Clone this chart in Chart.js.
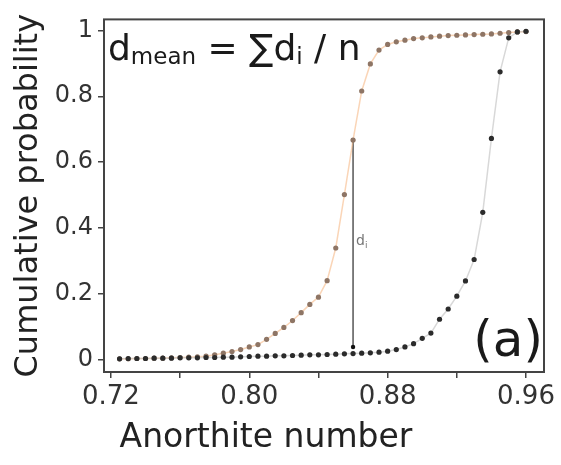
<!DOCTYPE html>
<html>
<head>
<meta charset="utf-8">
<script src="https://cdn.jsdelivr.net/npm/chart.js@4.4.0/dist/chart.umd.min.js"></script>
<style>
    html, body { margin: 0; padding: 0; background: #fff; }
    #wrap { width: 561px; height: 465px; position: relative; }
</style>
</head>
<body>
<div id="wrap"><canvas id="grafica"></canvas></div>
<script>
// --- DATOS ---
const anorthita = [0.725, 0.730, 0.735, 0.740, 0.745, 0.750, 0.755, 0.760, 0.765, 0.770,
    0.775, 0.780, 0.785, 0.790, 0.795, 0.800, 0.805, 0.810, 0.815, 0.820,
    0.825, 0.830, 0.835, 0.840, 0.845, 0.850, 0.855, 0.860, 0.865, 0.870,
    0.875, 0.880, 0.885, 0.890, 0.895, 0.900, 0.905, 0.910, 0.915, 0.920,
    0.925, 0.930, 0.935, 0.940, 0.945, 0.950, 0.955, 0.960];

const probNaranja = [0.004, 0.004, 0.005, 0.005, 0.006, 0.006, 0.007, 0.008, 0.009, 0.010,
    0.012, 0.016, 0.021, 0.026, 0.032, 0.040, 0.047, 0.063, 0.081, 0.099,
    0.120, 0.144, 0.169, 0.191, 0.241, 0.340, 0.502, 0.667, 0.816, 0.898,
    0.940, 0.957, 0.965, 0.970, 0.975, 0.977, 0.980, 0.982, 0.984, 0.985,
    0.986, 0.987, 0.988, 0.989, 0.991, 0.993, 0.995, 0.996];

const probNegra = [0.004, 0.005, 0.005, 0.005, 0.006, 0.006, 0.006, 0.007, 0.007, 0.007,
    0.008, 0.008, 0.009, 0.009, 0.010, 0.011, 0.012, 0.012, 0.013, 0.013,
    0.014, 0.015, 0.016, 0.016, 0.017, 0.018, 0.019, 0.020, 0.021, 0.022,
    0.024, 0.027, 0.032, 0.040, 0.050, 0.066, 0.082, 0.124, 0.155, 0.194,
    0.240, 0.305, 0.448, 0.672, 0.874, 0.977, 0.995, 0.997];

// segmento d_i
const lineaDiX = [0.86, 0.86];
const lineaDiY = [0.04, 0.667];

const ticksX = [0.72, 0.76, 0.80, 0.84, 0.88, 0.92, 0.96];
const etiquetasX = ['0.72', '', '0.80', '', '0.88', '', '0.96'];
const ticksY = [0, 0.2, 0.4, 0.6, 0.8, 1];
const etiquetasY = ['0', '0.2', '0.4', '0.6', '0.8', '1'];

const FUENTE = '"DejaVu Sans", Verdana, sans-serif';

function puntos(xs, ys) {
    return xs.map((x, i) => ({ x: x, y: ys[i] }));
}

// marco + textos sueltos
const pluginTextos = {
    id: 'textos',
    afterDraw(chart) {
        const ctx = chart.ctx;
        const a = chart.chartArea;
        ctx.save();
        ctx.strokeStyle = '#444';
        ctx.lineWidth = 2;
        ctx.strokeRect(a.left, a.top, a.right - a.left, a.bottom - a.top);

        ctx.fillStyle = '#1a1a1a';
        ctx.textBaseline = 'alphabetic';
        ctx.textAlign = 'left';
        // d_mean = ∑d_i / n
        const trozos = [
            ['d', 36, 0], ['mean', 23, 4], [' = \u2211d', 36, 0], ['i', 23, 4], [' / n', 36, 0]
        ];
        let x = 108;
        trozos.forEach(([txt, size, dy]) => {
            ctx.font = size + 'px ' + FUENTE;
            ctx.fillText(txt, x, 60 + dy);
            x += ctx.measureText(txt).width;
        });

        // (a)
        ctx.font = '50px ' + FUENTE;
        ctx.textAlign = 'right';
        ctx.fillText('(a)', 543, 356);

        // d_i
        const sx = chart.scales.x, sy = chart.scales.y;
        const px = sx.getPixelForValue(lineaDiX[0]) + 3;
        const py = sy.getPixelForValue(0.35);
        ctx.textAlign = 'left';
        ctx.fillStyle = '#777';
        ctx.font = '14px ' + FUENTE;
        ctx.fillText('d', px, py);
        const w = ctx.measureText('d').width;
        ctx.font = '9px ' + FUENTE;
        ctx.fillText('i', px + w, py + 3);

        // título eje x
        ctx.fillStyle = '#222';
        ctx.font = '33px ' + FUENTE;
        ctx.textAlign = 'center';
        ctx.fillText('Anorthite number', 266, 447);
        ctx.restore();
    }
};

new Chart(document.getElementById('grafica'), {
    type: 'scatter',
    data: {
        datasets: [
            {
                label: 'negra',
                data: puntos(anorthita, probNegra),
                showLine: true,
                borderColor: 'rgba(190,190,190,0.6)',
                borderWidth: 1.5,
                pointRadius: 2.6,
                pointBackgroundColor: '#2b2b2b',
                pointBorderWidth: 0
            },
            {
                label: 'naranja',
                data: puntos(anorthita, probNaranja),
                showLine: true,
                borderColor: 'rgba(247,185,135,0.6)',
                borderWidth: 1.5,
                pointRadius: 2.6,
                pointBackgroundColor: '#8e7565',
                pointBorderWidth: 0
            },
            {
                label: 'di',
                data: puntos(lineaDiX, lineaDiY),
                showLine: true,
                borderColor: '#555',
                borderWidth: 1.5,
                pointRadius: 2.2,
                pointBackgroundColor: '#111',
                pointBorderWidth: 0
            }
        ]
    },
    options: {
        responsive: true,
        maintainAspectRatio: false,
        animation: false,
        devicePixelRatio: 1,
        layout: { padding: { top: 14, right: 17, left: 0, bottom: 0 } },
        plugins: {
            legend: { display: false },
            tooltip: { enabled: false }
        },
        scales: {
            x: {
                type: 'linear',
                min: 0.716,
                max: 0.9704,
                afterFit: s => { s.height = 93; },
                afterBuildTicks: s => { s.ticks = ticksX.map(v => ({ value: v })); },
                border: { display: false },
                grid: { drawOnChartArea: false, drawTicks: true, tickLength: 6, color: '#444', lineWidth: 1.5 },
                ticks: {
                    autoSkip: false,
                    maxRotation: 0,
                    padding: 4,
                    color: '#333',
                    font: { family: FUENTE, size: 26 },
                    callback: (v, i) => etiquetasX[i]
                }
            },
            y: {
                min: -0.036,
                max: 1.033,
                afterFit: s => { s.width = 104; },
                afterBuildTicks: s => { s.ticks = ticksY.map(v => ({ value: v })); },
                border: { display: false },
                grid: { drawOnChartArea: false, drawTicks: true, tickLength: 6, color: '#444', lineWidth: 1.5 },
                ticks: {
                    padding: 5,
                    color: '#333',
                    font: { family: FUENTE, size: 24 },
                    callback: (v, i) => etiquetasY[i]
                },
                title: {
                    display: true,
                    text: 'Cumulative probability',
                    color: '#222',
                    font: { family: FUENTE, size: 32 },
                    padding: { top: 9, bottom: 0 }
                }
            }
        }
    },
    plugins: [pluginTextos]
});
</script>
</body>
</html>
